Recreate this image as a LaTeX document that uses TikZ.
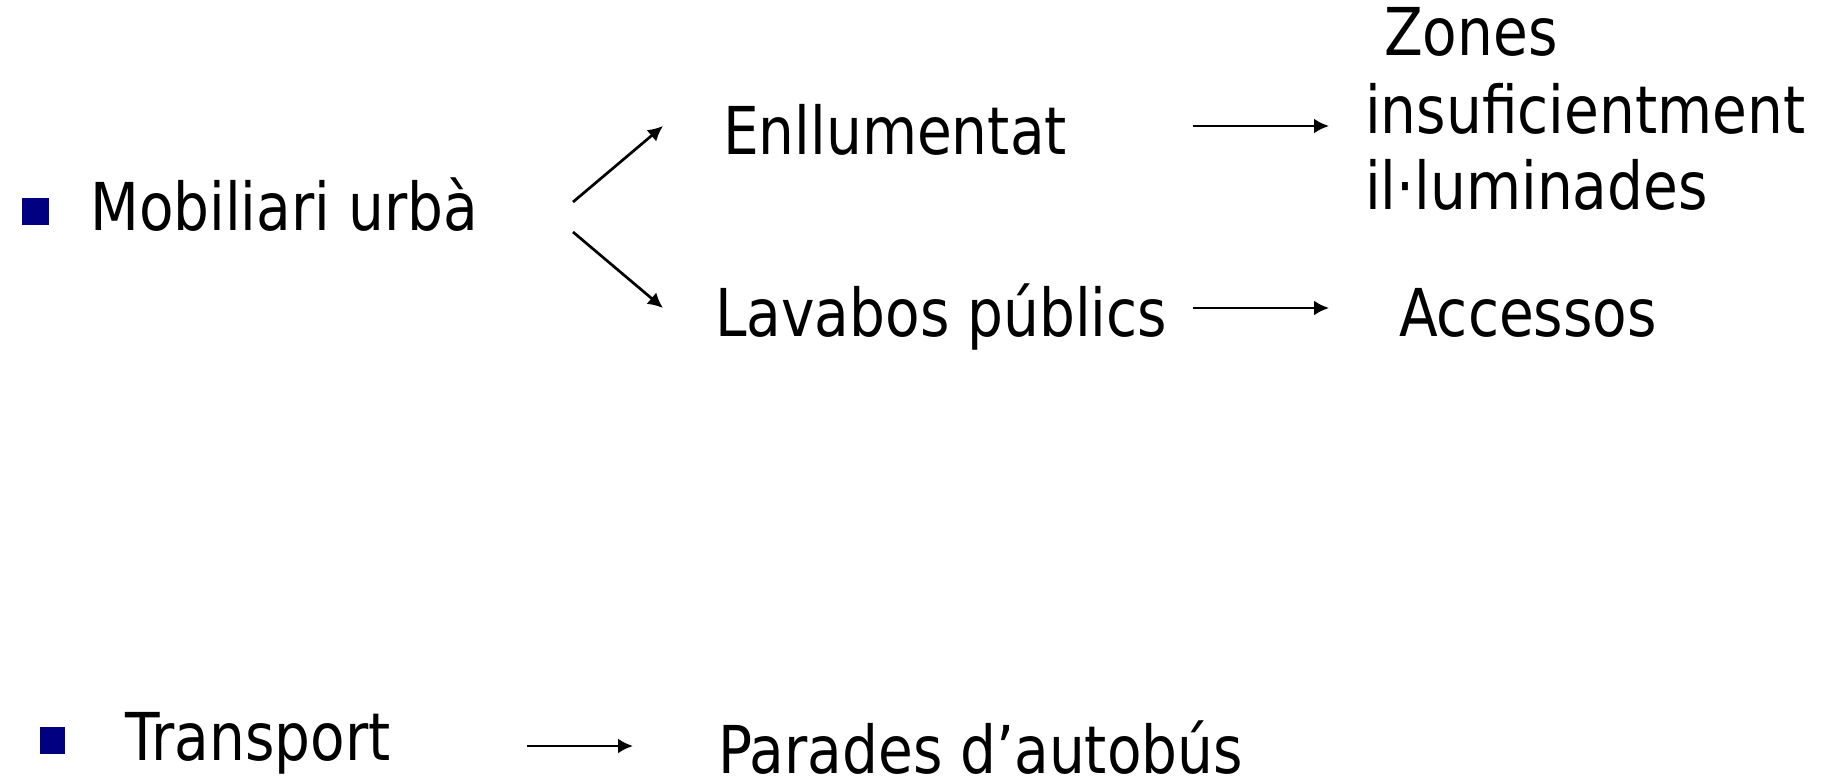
\documentclass[tikz,border=0pt]{standalone}
\usepackage{fontspec}
\setmainfont[FakeStretch=0.857]{DejaVu Sans}
\usetikzlibrary{arrows.meta}
\definecolor{bulletblue}{RGB}{0,0,128}
\begin{document}
\begin{tikzpicture}[x=1pt,y=-1pt,
  lbl/.style={anchor=base west,inner sep=0pt,font=\fontsize{66}{76}\selectfont},
  bulletsq/.style={fill=bulletblue,draw=none,inner sep=0pt},
  arr/.style={line width=2.7pt,-{Latex[length=15pt,width=15pt]}}]
\useasboundingbox (0,0) rectangle (1834,776);
% bullets
\node[bulletsq,minimum width=27pt,minimum height=27pt] (b1) at (35,211) {};
\node[bulletsq,minimum width=25pt,minimum height=27pt] (b2) at (52,740) {};
% texts
\node[lbl] (mob) at (90,230) {Mobiliari urbà};
\node[lbl] (enl) at (723,154) {Enllumentat};
\node[lbl] (lav) at (715,336) {Lavabos públics};
\node[lbl] (zo1) at (1384,56) {Zones};
\node[lbl] (zo2) at (1365,133) {insuficientment};
\node[lbl] (zo3) at (1365,209) {il·luminades};
\node[lbl] (acc) at (1399,336) {Accessos};
\node[lbl] (tra) at (125,760) {Transport};
\node[lbl] (par) at (718,773) {Parades d’autobús};
% arrow endpoints
\coordinate (m1) at (573,202);
\coordinate (e1) at (663,126);
\coordinate (m2) at (573,232);
\coordinate (l1) at (663,308);
\coordinate (e2) at (1193,126);
\coordinate (z1) at (1329,126);
\coordinate (l2) at (1193,308);
\coordinate (a1) at (1329,308);
\coordinate (t1) at (527,746);
\coordinate (p1) at (633,746);
% connectors
\draw[arr] (m1) -- (e1);
\draw[arr] (m2) -- (l1);
\draw[arr] (e2) -- (z1);
\draw[arr] (l2) -- (a1);
\draw[arr] (t1) -- (p1);
\end{tikzpicture}
\end{document}
